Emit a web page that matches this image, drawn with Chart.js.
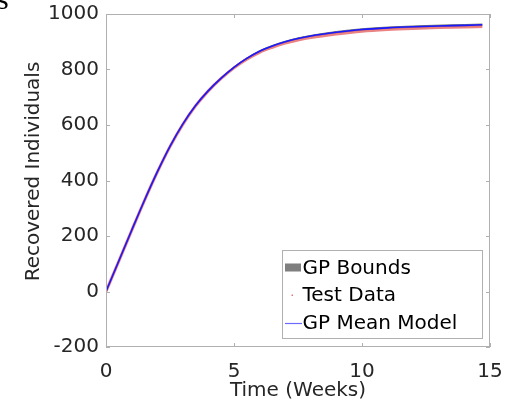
<!DOCTYPE html>
<html>
<head>
<meta charset="utf-8">
<script src="https://cdn.jsdelivr.net/npm/chart.js@4/dist/chart.umd.min.js"></script>
<style>
html,body{margin:0;padding:0;background:#fff;}
#wrap{width:510px;height:415px;position:relative;}
</style>
</head>
<body>
<div id="wrap"><canvas id="c" width="510" height="415"></canvas></div>
<script>
// ---- data ----
const weeks     = [0,0.5,1,1.5,2,2.5,3,3.5,4,4.5,5,5.5,6,6.5,7,7.5,8,9,10,11,12,13,14,14.7];
const meanModel = [0,110,220,328,430,523,603,670,724,769,808,840,866,885,900,912,921,934,944,950,954,957,959,961];
const testData  = [0,109,219,327,429,522,602,669,723,768,806,837,862,880,895,906,915,928,938,944,948,951,953,955];
const gpUpper   = [2,112,222,330,432,525,605,672,726,771,810,842,868,887,902,914,923,937,947,953,957,960,962,964];
const gpLower   = [-2,108,218,326,428,521,601,668,722,767,806,838,864,883,898,910,919,932,942,948,952,955,957,958];
const xTicks    = [0,5,10,15];
const yTicks    = [-200,0,200,400,600,800,1000];
const labels    = ['GP Bounds','Test Data','GP Mean Model'];
const xTitle    = 'Time (Weeks)';
const yTitle    = 'Recovered Individuals';

const FONT = "'DejaVu Sans', Verdana, sans-serif";
const TXT = '#262626';
const AX = '#b0b0b0';

const pts = arr => weeks.map((w,i)=>({x:w,y:arr[i]}));

const boxPlugin = {
  id:'matlabBox',
  afterDatasetsDraw(chart){
    const {ctx, chartArea:a, scales:{x,y}} = chart;
    ctx.save();
    ctx.strokeStyle = AX; ctx.lineWidth = 1;
    ctx.strokeRect(Math.round(a.left)+0.5, Math.round(a.top)+0.5, Math.round(a.right-a.left)-1, Math.round(a.bottom-a.top)-1);
    const L=4;
    ctx.beginPath();
    xTicks.forEach(v=>{
      const px = Math.round(x.getPixelForValue(v))+0.5;
      ctx.moveTo(px,a.bottom); ctx.lineTo(px,a.bottom-L);
      ctx.moveTo(px,a.top); ctx.lineTo(px,a.top+L);
    });
    yTicks.forEach(v=>{
      const py = Math.round(y.getPixelForValue(v))+0.5;
      ctx.moveTo(a.left,py); ctx.lineTo(a.left+L,py);
      ctx.moveTo(a.right,py); ctx.lineTo(a.right-L,py);
    });
    ctx.stroke();
    ctx.restore();
  },
  afterDraw(chart){
    const ctx = chart.ctx;
    ctx.save();
    // y axis title
    ctx.save();
    ctx.translate(39, 171.5);
    ctx.rotate(-Math.PI/2);
    ctx.font = '20px '+FONT; ctx.fillStyle = TXT;
    ctx.textAlign='center'; ctx.textBaseline='alphabetic';
    ctx.fillText(yTitle, 0, 0);
    ctx.restore();
    // legend box
    const bx=282.5, by=250.5, bw=200, bh=88;
    ctx.fillStyle='#fff'; ctx.fillRect(bx,by,bw,bh);
    ctx.strokeStyle=AX; ctx.lineWidth=1; ctx.strokeRect(bx,by,bw,bh);
    ctx.font = '20px '+FONT; ctx.textBaseline='middle'; ctx.textAlign='left';
    const rows=[267.5,295,323];
    ctx.fillStyle='#7f7f7f'; ctx.fillRect(285,263.5,16,8);
    ctx.fillStyle='rgba(220,60,60,0.7)'; ctx.fillRect(291.5,294.5,1.5,1.5);
    ctx.strokeStyle='#6b6bff'; ctx.lineWidth=1.2;
    ctx.beginPath(); ctx.moveTo(285,rows[2]+0.5); ctx.lineTo(302,rows[2]+0.5); ctx.stroke();
    ctx.fillStyle='#000';
    labels.forEach((t,i)=>ctx.fillText(t,302.5,rows[i]+1));
    // stray glyph at top-left from the source figure
    ctx.font = "30px 'Liberation Serif', 'DejaVu Serif', serif";
    ctx.fillStyle='#000'; ctx.textBaseline='alphabetic';
    ctx.fillText('s',-3,9);
    ctx.restore();
  }
};

const lineCommon = {pointRadius:0, cubicInterpolationMode:'monotone'};

new Chart(document.getElementById('c'), {
  type:'line',
  data:{
    datasets:[
      Object.assign({label:labels[2], data:pts(meanModel), borderColor:'#1a1aff', borderWidth:1.6, fill:false, order:0}, lineCommon),
      Object.assign({label:labels[1], data:pts(testData), borderColor:'rgba(230,90,90,0.75)', borderWidth:3, fill:false, order:1}, lineCommon),
      Object.assign({label:labels[0], data:pts(gpUpper), borderColor:'rgba(110,110,110,0.9)', borderWidth:1, backgroundColor:'rgba(110,110,110,0.9)', fill:'+1', order:2}, lineCommon),
      Object.assign({label:'lower', data:pts(gpLower), borderColor:'rgba(110,110,110,0.9)', borderWidth:1, fill:false, order:3}, lineCommon)
    ]
  },
  options:{
    responsive:false,
    animation:false,
    devicePixelRatio:1,
    layout:{padding:{left:0,right:20,top:14,bottom:0}},
    plugins:{legend:{display:false}, tooltip:{enabled:false}},
    scales:{
      x:{
        type:'linear', min:0, max:15,
        afterBuildTicks(s){ s.ticks = xTicks.map(v=>({value:v})); },
        ticks:{font:{size:20,family:FONT}, color:TXT, padding:13, maxRotation:0, callback:v=>String(v)},
        grid:{display:false, drawTicks:false},
        border:{display:false},
        title:{display:true, text:xTitle, font:{size:20,family:FONT}, color:TXT, padding:{top:0,bottom:12}},
        afterFit(s){ s.height = 68; s.paddingLeft = 0; s.paddingRight = 0; }
      },
      y:{
        type:'linear', min:-200, max:1000,
        afterBuildTicks(s){ s.ticks = yTicks.map(v=>({value:v})); },
        ticks:{font:{size:20,family:FONT}, color:TXT, padding:7, callback:v=>String(v)},
        grid:{display:false, drawTicks:false},
        border:{display:false},
        title:{display:false, text:yTitle},
        afterFit(s){ s.width = 106; s.paddingTop = 0; s.paddingBottom = 0; }
      }
    }
  },
  plugins:[boxPlugin]
});
</script>
</body>
</html>
